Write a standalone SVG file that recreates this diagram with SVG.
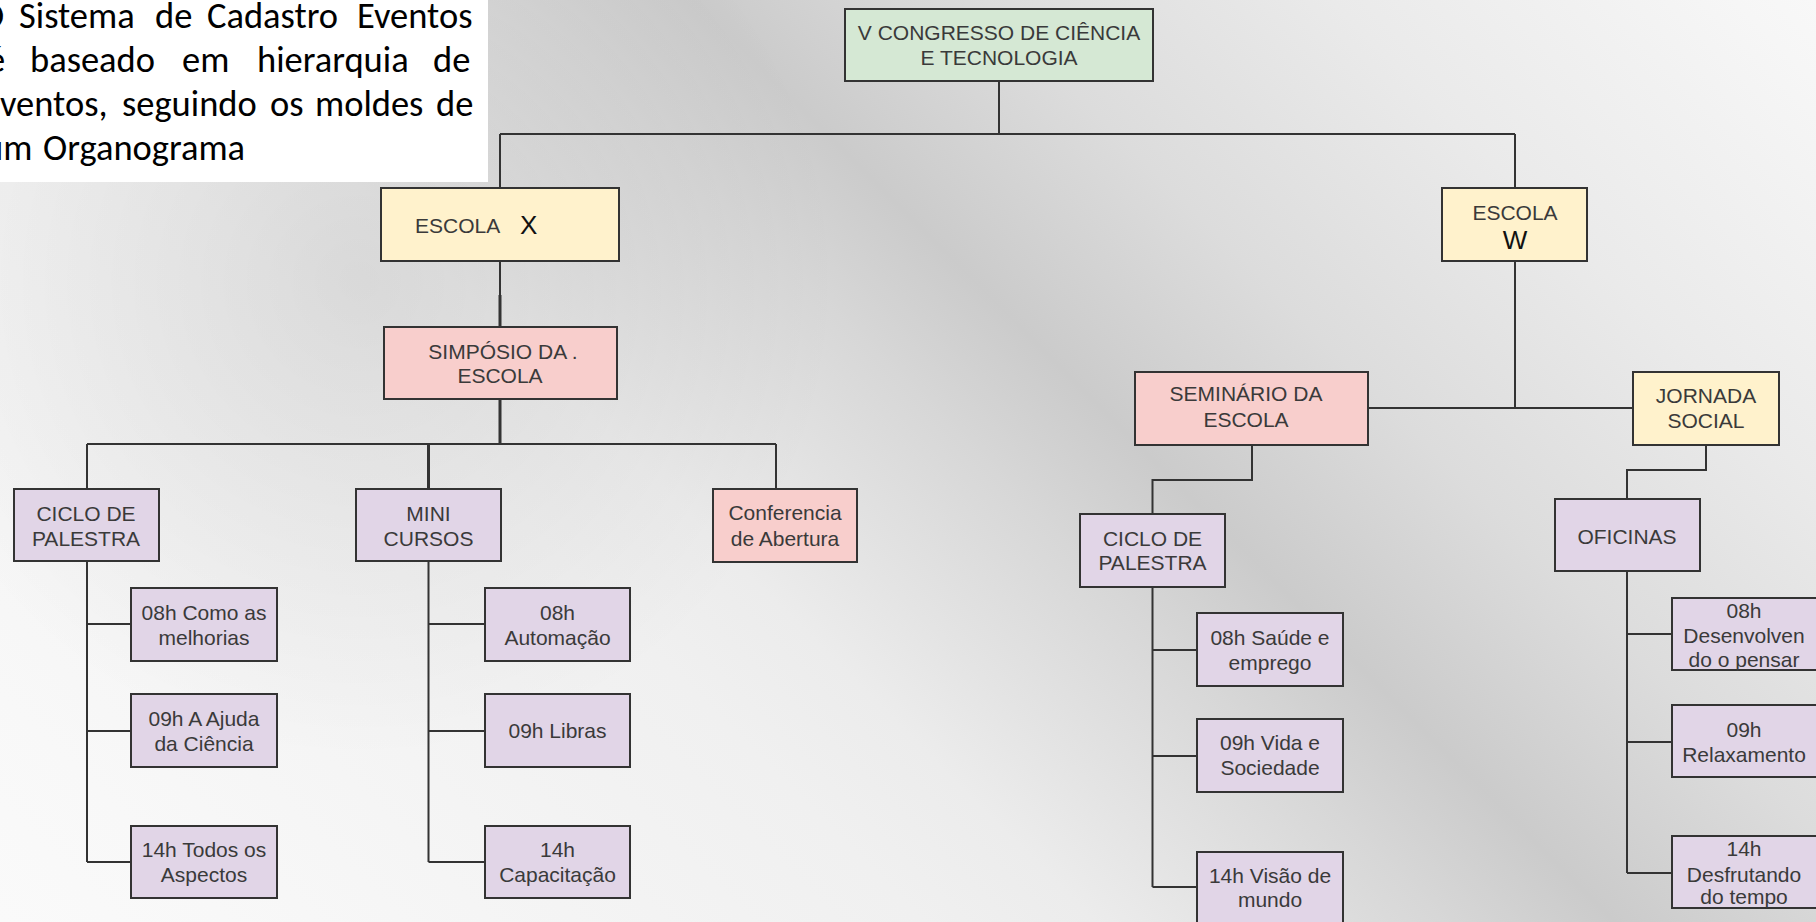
<svg xmlns="http://www.w3.org/2000/svg" width="1816" height="922" viewBox="0 0 1816 922">
<defs>
<linearGradient id="bg" gradientUnits="userSpaceOnUse" x1="0" y1="922" x2="1369" y2="-447">
<stop offset="0" stop-color="#fafafa"/>
<stop offset="0.083" stop-color="#f8f8f8"/>
<stop offset="0.337" stop-color="#f0f0f0"/>
<stop offset="0.40" stop-color="#ececec"/>
<stop offset="0.527" stop-color="#d7d7d7"/>
<stop offset="0.59" stop-color="#cbcbcb"/>
<stop offset="0.696" stop-color="#dcdcdc"/>
<stop offset="0.823" stop-color="#eaeaea"/>
<stop offset="0.97" stop-color="#f6f6f6"/>
<stop offset="1" stop-color="#f8f8f8"/>
</linearGradient>
<radialGradient id="shade" gradientUnits="userSpaceOnUse" cx="360" cy="280" r="480">
<stop offset="0" stop-color="#000" stop-opacity="0.09"/>
<stop offset="1" stop-color="#000" stop-opacity="0"/>
</radialGradient>
<style>
.box{stroke:#333;stroke-width:2}
.g{fill:#d5e8d4}.y{fill:#fff2cc}.p{fill:#f8cecc}.l{fill:#e1d5e7}
.t{font-family:"Liberation Sans",Arial,sans-serif;font-size:21px;fill:#3a3a3a;text-anchor:middle}
.big{font-size:26px;fill:#111}
.c{fill:none;stroke:#333;stroke-width:2}
.thick{stroke-width:3}
.intro{font-family:Carlito,Lato,"Liberation Sans",sans-serif;font-size:36.5px;fill:#000}
</style>
</defs>
<rect x="0" y="0" width="1816" height="922" fill="url(#bg)"/>
<rect x="0" y="0" width="1816" height="922" fill="url(#shade)"/>
<g id="intro">
<rect x="0" y="0" width="488" height="182" fill="#ffffff"/>
<text class="intro" y="28"><tspan x="-20">O</tspan><tspan x="19">Sistema</tspan><tspan x="155">de</tspan><tspan x="207">Cadastro</tspan><tspan x="357">Eventos</tspan></text>
<text class="intro" y="72"><tspan x="-13">é</tspan><tspan x="30">baseado</tspan><tspan x="182">em</tspan><tspan x="257">hierarquia</tspan><tspan x="433">de</tspan></text>
<text class="intro" y="116"><tspan x="-18">eventos,</tspan><tspan x="122">seguindo</tspan><tspan x="270">os</tspan><tspan x="315">moldes</tspan><tspan x="436">de</tspan></text>
<text class="intro" y="160"><tspan x="-16">um</tspan><tspan x="43">Organograma</tspan></text>
</g>
<g id="connectors">
<path class="c" d="M999,81 V134 M500,134 H1515 M500,134 V188 M1515,134 V188"/>
<path class="c" d="M500,261 V295"/>
<path class="c thick" d="M500,295 V327"/>
<path class="c thick" d="M500,399 V444 M428.5,444 V489"/>
<path class="c" d="M87,444 H776 M87,444 V489 M776,444 V489"/>
<path class="c" d="M87,561 V862 M87,624 H131 M87,731 H131 M87,862 H131"/>
<path class="c" d="M428.5,561 V862 M428.5,624 H485 M428.5,731 H485 M428.5,862 H485"/>
<path class="c" d="M1515,261 V408 M1368,408 H1633"/>
<path class="c" d="M1252,445 V480 H1152.5 V514"/>
<path class="c" d="M1152.5,587 V887 M1152.5,650 H1197 M1152.5,756 H1197 M1152.5,887 H1197"/>
<path class="c" d="M1706,445 V470 H1627 V499"/>
<path class="c" d="M1627,571 V873 M1627,634 H1672 M1627,742 H1672 M1627,873 H1672"/>
</g>
<g id="root"><rect class="box g" x="845" y="9" width="308" height="72"/><text class="t" x="999" y="40">V CONGRESSO DE CIÊNCIA</text><text class="t" x="999" y="65">E TECNOLOGIA</text></g>
<g id="escola-x"><rect class="box y" x="381" y="188" width="238" height="73"/><text class="t" x="415" y="233" style="text-anchor:start">ESCOLA</text><text class="t big" x="520" y="234" style="text-anchor:start">X</text></g>
<g id="escola-w"><rect class="box y" x="1442" y="188" width="145" height="73"/><text class="t" x="1515" y="220">ESCOLA</text><text class="t big" x="1515" y="249">W</text></g>
<g id="simposio"><rect class="box p" x="384" y="327" width="233" height="72"/><text class="t" x="503" y="359">SIMPÓSIO DA .</text><text class="t" x="500" y="383">ESCOLA</text></g>
<g id="seminario"><rect class="box p" x="1135" y="372" width="233" height="73"/><text class="t" x="1246" y="401">SEMINÁRIO DA</text><text class="t" x="1246" y="427">ESCOLA</text></g>
<g id="jornada"><rect class="box y" x="1633" y="372" width="146" height="73"/><text class="t" x="1706" y="403">JORNADA</text><text class="t" x="1706" y="428">SOCIAL</text></g>
<g id="ciclo-x"><rect class="box l" x="14" y="489" width="145" height="72"/><text class="t" x="86" y="521">CICLO DE</text><text class="t" x="86" y="546">PALESTRA</text></g>
<g id="mini"><rect class="box l" x="356" y="489" width="145" height="72"/><text class="t" x="428.5" y="521">MINI</text><text class="t" x="428.5" y="546">CURSOS</text></g>
<g id="conferencia"><rect class="box p" x="713" y="489" width="144" height="73"/><text class="t" x="785" y="520">Conferencia</text><text class="t" x="785" y="546">de Abertura</text></g>
<g id="x1"><rect class="box l" x="131" y="588" width="146" height="73"/><text class="t" x="204" y="620">08h Como as</text><text class="t" x="204" y="645">melhorias</text></g>
<g id="x2"><rect class="box l" x="131" y="694" width="146" height="73"/><text class="t" x="204" y="726">09h A Ajuda</text><text class="t" x="204" y="751">da Ciência</text></g>
<g id="x3"><rect class="box l" x="131" y="826" width="146" height="72"/><text class="t" x="204" y="857">14h Todos os</text><text class="t" x="204" y="882">Aspectos</text></g>
<g id="m1"><rect class="box l" x="485" y="588" width="145" height="73"/><text class="t" x="557.5" y="620">08h</text><text class="t" x="557.5" y="645">Automação</text></g>
<g id="m2"><rect class="box l" x="485" y="694" width="145" height="73"/><text class="t" x="557.5" y="738">09h Libras</text></g>
<g id="m3"><rect class="box l" x="485" y="826" width="145" height="72"/><text class="t" x="557.5" y="857">14h</text><text class="t" x="557.5" y="882">Capacitação</text></g>
<g id="ciclo-w"><rect class="box l" x="1080" y="514" width="145" height="73"/><text class="t" x="1152.5" y="546">CICLO DE</text><text class="t" x="1152.5" y="570">PALESTRA</text></g>
<g id="r1"><rect class="box l" x="1197" y="613" width="146" height="73"/><text class="t" x="1270" y="645">08h Saúde e</text><text class="t" x="1270" y="670">emprego</text></g>
<g id="r2"><rect class="box l" x="1197" y="719" width="146" height="73"/><text class="t" x="1270" y="750">09h Vida e</text><text class="t" x="1270" y="775">Sociedade</text></g>
<g id="r3"><rect class="box l" x="1197" y="852" width="146" height="73"/><text class="t" x="1270" y="883">14h Visão de</text><text class="t" x="1270" y="907">mundo</text></g>
<g id="oficinas"><rect class="box l" x="1555" y="499" width="145" height="72"/><text class="t" x="1627" y="544">OFICINAS</text></g>
<g id="o1"><rect class="box l" x="1672" y="598" width="146" height="72"/><text class="t" x="1744" y="618">08h</text><text class="t" x="1744" y="643">Desenvolven</text><text class="t" x="1744" y="667">do o pensar</text></g>
<g id="o2"><rect class="box l" x="1672" y="705" width="146" height="72"/><text class="t" x="1744" y="737">09h</text><text class="t" x="1744" y="762">Relaxamento</text></g>
<g id="o3"><rect class="box l" x="1672" y="836" width="146" height="72"/><text class="t" x="1744" y="856">14h</text><text class="t" x="1744" y="882">Desfrutando</text><text class="t" x="1744" y="904">do tempo</text></g>
</svg>
